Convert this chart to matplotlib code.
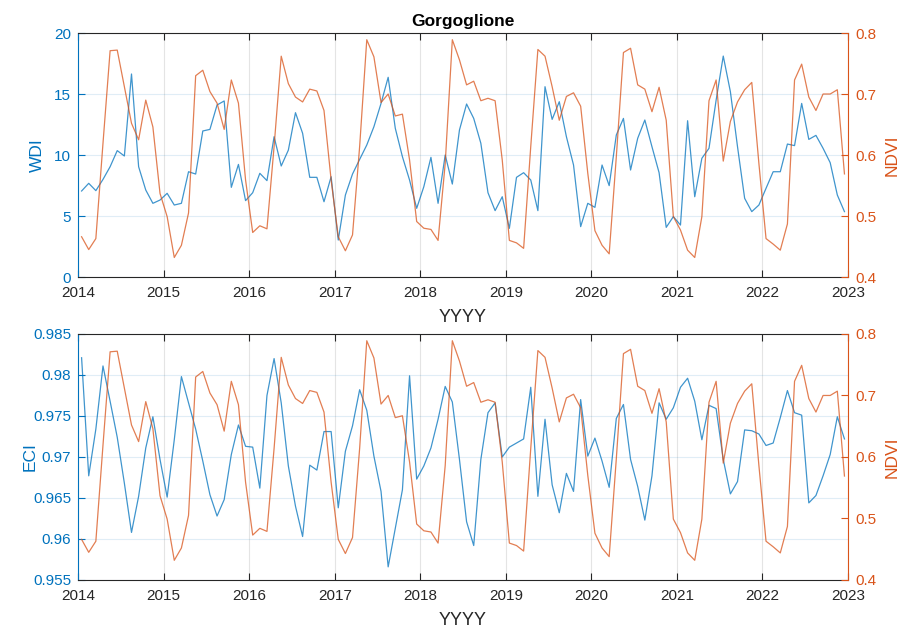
import numpy as np
import matplotlib
matplotlib.use('Agg')
import matplotlib.pyplot as plt
from matplotlib.ticker import FuncFormatter

plt.rcParams['font.family'] = ['Liberation Sans', 'DejaVu Sans']

# monthly series, Jan 2014 .. Dec 2022 (mid-month samples)
wdi = [7.05, 7.68, 7.08, 8.0, 9.04, 10.36, 9.92, 16.64, 9.04, 7.13, 6.04, 6.31,
       6.86, 5.9, 6.04, 8.63, 8.44, 11.97, 12.1, 14.1, 14.43, 7.35, 9.23, 6.26,
       6.91, 8.5, 7.9, 11.5, 9.1, 10.4, 13.47, 11.78, 8.17, 8.17, 6.17, 8.22,
       3.03, 6.72, 8.44, 9.64, 10.82, 12.32, 14.23, 16.37, 12.19, 9.86, 7.95, 5.63,
       7.40, 9.81, 6.04, 10.0, 7.62, 12.05, 14.18, 13.0, 10.96, 6.91, 5.44, 6.58,
       3.99, 8.17, 8.55, 7.95, 5.44, 15.6, 12.92, 14.37, 11.5, 9.18, 4.13, 6.04,
       5.71, 9.18, 7.49, 11.64, 13.0, 8.77, 11.37, 12.87, 10.68, 8.55, 4.07, 4.95,
       4.26, 12.81, 6.58, 9.73, 10.55, 14.5, 18.11, 15.19, 10.68, 6.45, 5.36, 5.9,
       7.27, 8.63, 8.63, 10.9, 10.77, 14.23, 11.28, 11.61, 10.55, 9.37, 6.72, 5.36]

ndvi = [0.466, 0.445, 0.463, 0.619, 0.771, 0.772, 0.712, 0.652, 0.625, 0.690, 0.646, 0.537,
        0.499, 0.432, 0.452, 0.505, 0.730, 0.739, 0.704, 0.685, 0.642, 0.723, 0.685, 0.559,
        0.473, 0.484, 0.479, 0.614, 0.762, 0.717, 0.695, 0.687, 0.708, 0.705, 0.673, 0.559,
        0.466, 0.443, 0.469, 0.614, 0.789, 0.761, 0.686, 0.700, 0.664, 0.667, 0.592, 0.491,
        0.480, 0.478, 0.460, 0.586, 0.789, 0.756, 0.715, 0.721, 0.689, 0.693, 0.689, 0.592,
        0.460, 0.456, 0.447, 0.614, 0.773, 0.762, 0.712, 0.657, 0.696, 0.702, 0.680, 0.570,
        0.476, 0.452, 0.438, 0.597, 0.768, 0.775, 0.715, 0.708, 0.671, 0.711, 0.657, 0.499,
        0.477, 0.444, 0.432, 0.499, 0.689, 0.723, 0.590, 0.655, 0.687, 0.707, 0.719, 0.586,
        0.463, 0.454, 0.444, 0.487, 0.723, 0.749, 0.695, 0.673, 0.700, 0.700, 0.707, 0.569]

eci = [0.9821, 0.9677, 0.9734, 0.9811, 0.9768, 0.9724, 0.9668, 0.9608, 0.9652, 0.9711, 0.9749, 0.9697,
       0.9651, 0.9721, 0.9798, 0.9766, 0.9734, 0.9695, 0.9654, 0.9628, 0.9648, 0.9703, 0.9739, 0.9713,
       0.9712, 0.9662, 0.9775, 0.9820, 0.9766, 0.9689, 0.9640, 0.9603, 0.9690, 0.9684, 0.9731, 0.9731,
       0.9638, 0.9707, 0.9738, 0.9782, 0.9757, 0.9701, 0.9658, 0.9566, 0.9613, 0.9660, 0.9799, 0.9673,
       0.9689, 0.9711, 0.9746, 0.9786, 0.9767, 0.9697, 0.9621, 0.9592, 0.9697, 0.9754, 0.9766, 0.9700,
       0.9712, 0.9717, 0.9722, 0.9785, 0.9652, 0.9746, 0.9666, 0.9632, 0.9680, 0.9658, 0.9770, 0.9701,
       0.9723, 0.9695, 0.9663, 0.9747, 0.9764, 0.9697, 0.9664, 0.9623, 0.9677, 0.9766, 0.9746, 0.9760,
       0.9785, 0.9796, 0.9768, 0.9721, 0.9763, 0.9759, 0.9697, 0.9655, 0.9670, 0.9733, 0.9732, 0.9728,
       0.9714, 0.9717, 0.9748, 0.9781, 0.9754, 0.9751, 0.9644, 0.9653, 0.9677, 0.9703, 0.9749, 0.9722]

years = list(range(2014, 2024))
t = 2014 + (np.arange(len(wdi)) + 0.5) / 12.0

BLUE = '#0072BD'
ORANGE = '#D95319'
DARK = '#262626'


def style_pair(ax, axr, left_label, left_lim, left_ticks, label_x):
    ax.set_xlim(2014, 2023)
    ax.set_xticks(years)
    ax.set_ylim(*left_lim)
    ax.set_yticks(left_ticks)
    ax.yaxis.set_major_formatter(FuncFormatter(lambda v, p: '%g' % round(v, 4)))
    axr.set_ylim(0.4, 0.8)
    axr.set_yticks([0.4, 0.5, 0.6, 0.7, 0.8])
    axr.yaxis.set_major_formatter(FuncFormatter(lambda v, p: '%g' % round(v, 4)))

    # spines: coloured y axes, dark box top/bottom
    ax.spines['left'].set_color(BLUE)
    ax.spines['right'].set_visible(False)
    ax.spines['top'].set_color(DARK)
    ax.spines['bottom'].set_color(DARK)
    for s in ('left', 'top', 'bottom'):
        axr.spines[s].set_visible(False)
    axr.spines['right'].set_color(ORANGE)
    for a in (ax, axr):
        for s in a.spines.values():
            s.set_linewidth(0.8)

    ax.tick_params(axis='x', direction='in', top=True, length=5, width=0.8,
                   colors=DARK, labelsize=11, pad=6.5)
    ax.tick_params(axis='y', direction='in', length=5, width=0.8,
                   colors=BLUE, labelsize=11, pad=5)
    axr.tick_params(axis='y', direction='in', length=5, width=0.8,
                    colors=ORANGE, labelsize=11, pad=5.5)

    ax.xaxis.grid(True, color='#262626', alpha=0.12, linewidth=0.8)
    ax.yaxis.grid(True, color=BLUE, alpha=0.12, linewidth=0.8)
    ax.set_axisbelow(True)

    ax.set_xlabel('YYYY', fontsize=13, color=DARK, labelpad=6.5)
    ax.set_ylabel(left_label, fontsize=12.5, color=BLUE)
    ax.yaxis.set_label_coords(label_x, 0.5)
    axr.set_ylabel('NDVI', fontsize=12.5, color=ORANGE)
    axr.yaxis.set_label_coords(1.048, 0.5)


fig = plt.figure(figsize=(9.01, 6.30), dpi=100)

# top: WDI vs NDVI
ax1 = fig.add_axes([0.0866, 0.5603, 0.8546, 0.3873])
ax1r = ax1.twinx()
ax1.plot(t, wdi, color=BLUE, linewidth=0.9, alpha=0.75)
ax1r.plot(t, ndvi, color=ORANGE, linewidth=0.9, alpha=0.75)
style_pair(ax1, ax1r, 'WDI', (0, 20), [0, 5, 10, 15, 20], -0.043)
ax1.set_title('Gorgoglione', fontsize=12.5, fontweight='bold', color='black', pad=5)

# bottom: ECI vs NDVI
ax2 = fig.add_axes([0.0866, 0.0794, 0.8546, 0.3905])
ax2r = ax2.twinx()
ax2.plot(t, eci, color=BLUE, linewidth=0.9, alpha=0.75)
ax2r.plot(t, ndvi, color=ORANGE, linewidth=0.9, alpha=0.75)
style_pair(ax2, ax2r, 'ECI', (0.955, 0.985),
           [0.955, 0.96, 0.965, 0.97, 0.975, 0.98, 0.985], -0.052)

fig.savefig('out.png', dpi=100)
